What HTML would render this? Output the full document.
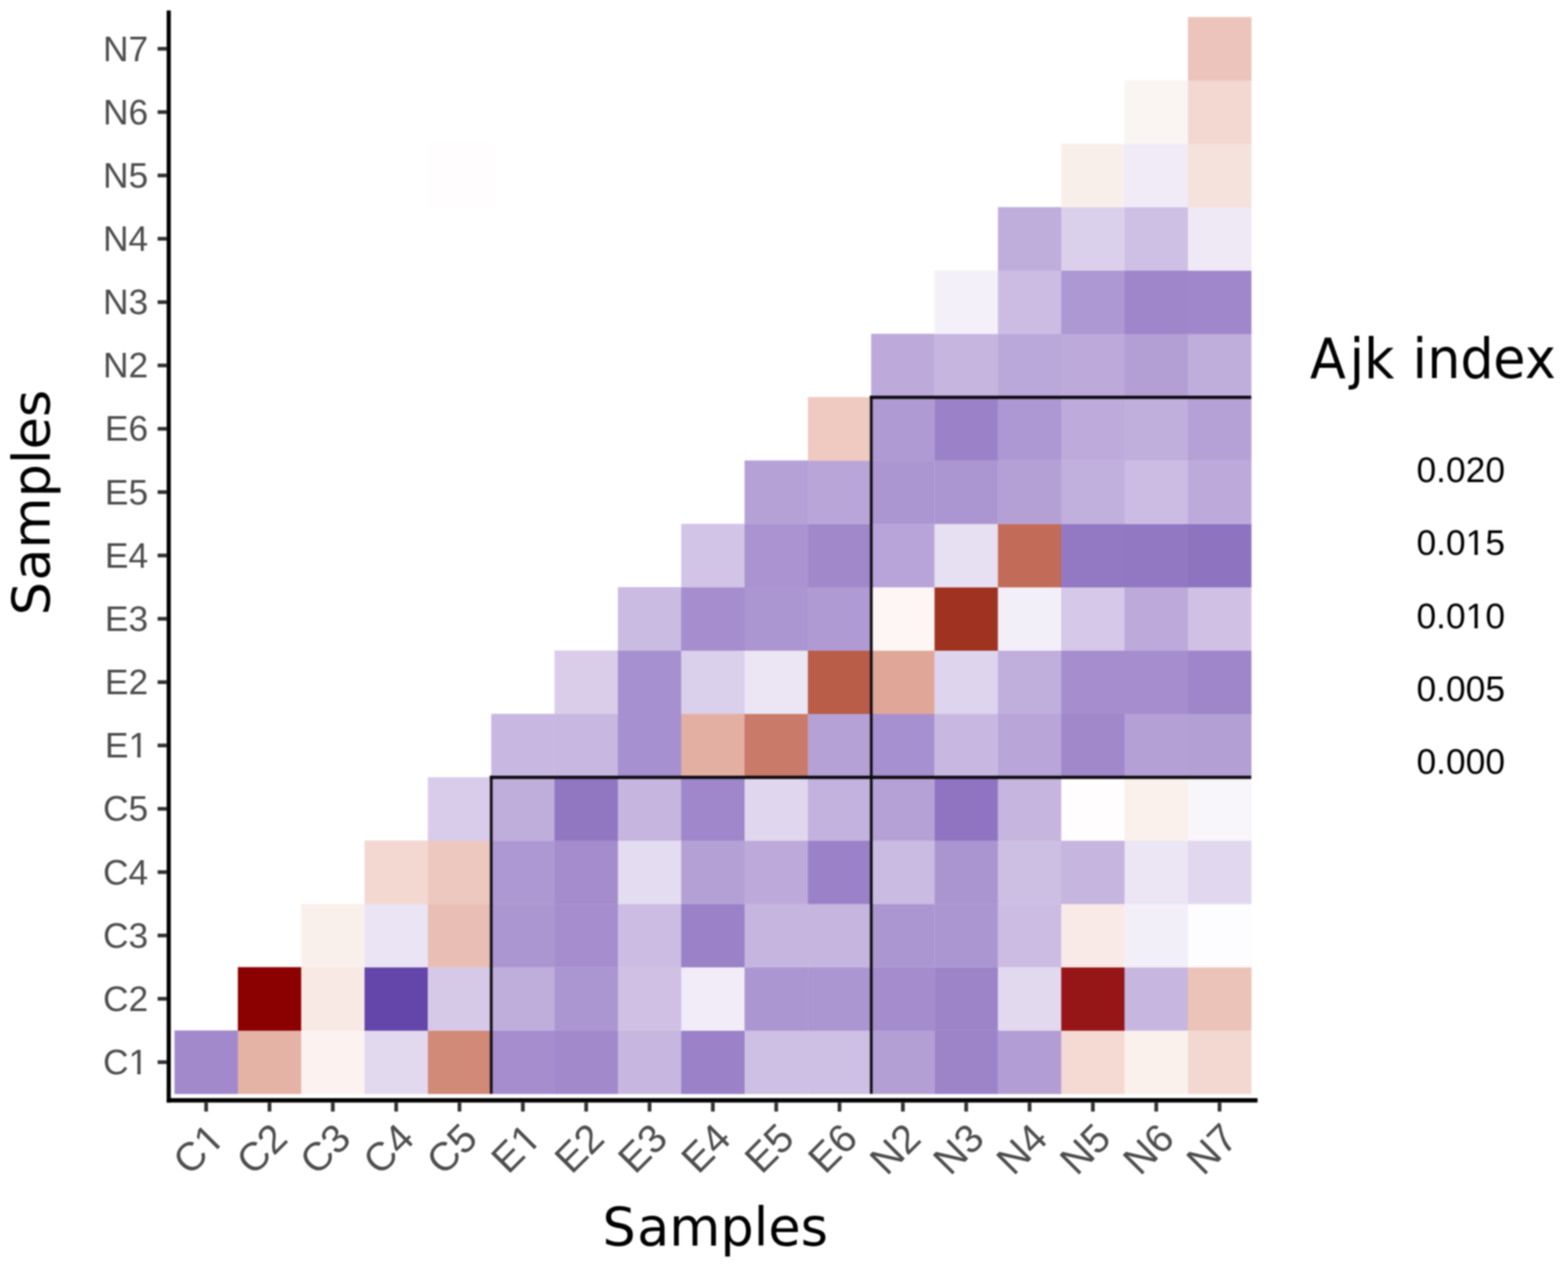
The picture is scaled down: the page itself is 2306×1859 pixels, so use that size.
<!DOCTYPE html>
<html lang="en"><head><meta charset="utf-8"><title>Ajk index heatmap</title>
<style>
html,body{margin:0;padding:0;background:#fff;}
body{width:2306px;height:1859px;overflow:hidden;}
svg{display:block;}
.lab{font-family:"Liberation Sans",Arial,Helvetica,sans-serif;font-size:52px;fill:#4D4D4D;}
.xlab{font-family:"Liberation Sans",Arial,Helvetica,sans-serif;font-size:59px;fill:#4D4D4D;}
.leg{font-family:"Liberation Sans",Arial,Helvetica,sans-serif;font-size:52px;fill:#000;}
.ttl{font-family:"DejaVu Sans",Verdana,sans-serif;font-size:77.2px;fill:#000;}
</style></head>
<body>
<svg width="2306" height="1859" viewBox="0 0 2306 1859" role="img" aria-label="Heatmap of Ajk index between samples">
<defs><filter id="soft" x="0" y="0" width="2306" height="1859" filterUnits="userSpaceOnUse" color-interpolation-filters="sRGB"><feGaussianBlur stdDeviation="0.85"/></filter></defs>
<g filter="url(#soft)">
<rect x="0" y="0" width="2306" height="1859" fill="#ffffff"/>
<g id="cells">
<rect x="256.6" y="1515.5" width="93.5" height="93.5" fill="#A289CC"/>
<rect x="349.8" y="1515.5" width="93.5" height="93.5" fill="#E5B3A6"/>
<rect x="442.9" y="1515.5" width="93.5" height="93.5" fill="#FCF3F1"/>
<rect x="536.1" y="1515.5" width="93.5" height="93.5" fill="#E2D9EF"/>
<rect x="629.2" y="1515.5" width="93.5" height="93.5" fill="#D18978"/>
<rect x="722.4" y="1515.5" width="93.5" height="93.5" fill="#A68ECE"/>
<rect x="815.5" y="1515.5" width="93.5" height="93.5" fill="#A289CC"/>
<rect x="908.7" y="1515.5" width="93.5" height="93.5" fill="#C7B7E0"/>
<rect x="1001.8" y="1515.5" width="93.5" height="93.5" fill="#9B82C8"/>
<rect x="1095.0" y="1515.5" width="93.5" height="93.5" fill="#CEBFE4"/>
<rect x="1188.1" y="1515.5" width="93.5" height="93.5" fill="#CEBFE4"/>
<rect x="1281.2" y="1515.5" width="93.5" height="93.5" fill="#B49FD5"/>
<rect x="1374.4" y="1515.5" width="93.5" height="93.5" fill="#9D84C9"/>
<rect x="1467.6" y="1515.5" width="93.5" height="93.5" fill="#B39DD5"/>
<rect x="1560.7" y="1515.5" width="93.5" height="93.5" fill="#F4DAD3"/>
<rect x="1653.8" y="1515.5" width="93.5" height="93.5" fill="#FBF1EC"/>
<rect x="1747.0" y="1515.5" width="93.5" height="93.5" fill="#F3D8D2"/>
<rect x="349.8" y="1422.4" width="93.5" height="93.5" fill="#8B0000"/>
<rect x="442.9" y="1422.4" width="93.5" height="93.5" fill="#F9E9E5"/>
<rect x="536.1" y="1422.4" width="93.5" height="93.5" fill="#6446AB"/>
<rect x="629.2" y="1422.4" width="93.5" height="93.5" fill="#D6C9E8"/>
<rect x="722.4" y="1422.4" width="93.5" height="93.5" fill="#BFADDC"/>
<rect x="815.5" y="1422.4" width="93.5" height="93.5" fill="#AC96D1"/>
<rect x="908.7" y="1422.4" width="93.5" height="93.5" fill="#CFC0E4"/>
<rect x="1001.8" y="1422.4" width="93.5" height="93.5" fill="#F1ECF7"/>
<rect x="1095.0" y="1422.4" width="93.5" height="93.5" fill="#AC96D1"/>
<rect x="1188.1" y="1422.4" width="93.5" height="93.5" fill="#AC96D1"/>
<rect x="1281.2" y="1422.4" width="93.5" height="93.5" fill="#A48CCD"/>
<rect x="1374.4" y="1422.4" width="93.5" height="93.5" fill="#9D84C9"/>
<rect x="1467.6" y="1422.4" width="93.5" height="93.5" fill="#E2D9EF"/>
<rect x="1560.7" y="1422.4" width="93.5" height="93.5" fill="#961618"/>
<rect x="1653.8" y="1422.4" width="93.5" height="93.5" fill="#C7B7E0"/>
<rect x="1747.0" y="1422.4" width="93.5" height="93.5" fill="#EBC3B9"/>
<rect x="442.9" y="1329.2" width="93.5" height="93.5" fill="#FAF0EB"/>
<rect x="536.1" y="1329.2" width="93.5" height="93.5" fill="#EAE4F4"/>
<rect x="629.2" y="1329.2" width="93.5" height="93.5" fill="#E9BEB4"/>
<rect x="722.4" y="1329.2" width="93.5" height="93.5" fill="#AC96D1"/>
<rect x="815.5" y="1329.2" width="93.5" height="93.5" fill="#A68ECE"/>
<rect x="908.7" y="1329.2" width="93.5" height="93.5" fill="#CCBCE3"/>
<rect x="1001.8" y="1329.2" width="93.5" height="93.5" fill="#9B82C8"/>
<rect x="1095.0" y="1329.2" width="93.5" height="93.5" fill="#C5B5DF"/>
<rect x="1188.1" y="1329.2" width="93.5" height="93.5" fill="#C5B5DF"/>
<rect x="1281.2" y="1329.2" width="93.5" height="93.5" fill="#AC96D1"/>
<rect x="1374.4" y="1329.2" width="93.5" height="93.5" fill="#AC96D1"/>
<rect x="1467.6" y="1329.2" width="93.5" height="93.5" fill="#CCBCE3"/>
<rect x="1560.7" y="1329.2" width="93.5" height="93.5" fill="#F9EAE7"/>
<rect x="1653.8" y="1329.2" width="93.5" height="93.5" fill="#F3EFF8"/>
<rect x="1747.0" y="1329.2" width="93.5" height="93.5" fill="#FDFCFE"/>
<rect x="536.1" y="1236.1" width="93.5" height="93.5" fill="#F3D8D2"/>
<rect x="629.2" y="1236.1" width="93.5" height="93.5" fill="#EDC8BF"/>
<rect x="722.4" y="1236.1" width="93.5" height="93.5" fill="#AE98D3"/>
<rect x="815.5" y="1236.1" width="93.5" height="93.5" fill="#A48CCD"/>
<rect x="908.7" y="1236.1" width="93.5" height="93.5" fill="#E4DCF0"/>
<rect x="1001.8" y="1236.1" width="93.5" height="93.5" fill="#B5A0D6"/>
<rect x="1095.0" y="1236.1" width="93.5" height="93.5" fill="#BDAADB"/>
<rect x="1188.1" y="1236.1" width="93.5" height="93.5" fill="#9B82C8"/>
<rect x="1281.2" y="1236.1" width="93.5" height="93.5" fill="#CABBE2"/>
<rect x="1374.4" y="1236.1" width="93.5" height="93.5" fill="#AB95D1"/>
<rect x="1467.6" y="1236.1" width="93.5" height="93.5" fill="#CDBEE3"/>
<rect x="1560.7" y="1236.1" width="93.5" height="93.5" fill="#C5B5DF"/>
<rect x="1653.8" y="1236.1" width="93.5" height="93.5" fill="#EBE5F4"/>
<rect x="1747.0" y="1236.1" width="93.5" height="93.5" fill="#E1D8EF"/>
<rect x="629.2" y="1143.0" width="93.5" height="93.5" fill="#D8CCEA"/>
<rect x="722.4" y="1143.0" width="93.5" height="93.5" fill="#BFADDC"/>
<rect x="815.5" y="1143.0" width="93.5" height="93.5" fill="#9176C2"/>
<rect x="908.7" y="1143.0" width="93.5" height="93.5" fill="#C5B5DF"/>
<rect x="1001.8" y="1143.0" width="93.5" height="93.5" fill="#A087CB"/>
<rect x="1095.0" y="1143.0" width="93.5" height="93.5" fill="#E0D7EE"/>
<rect x="1188.1" y="1143.0" width="93.5" height="93.5" fill="#C3B2DE"/>
<rect x="1281.2" y="1143.0" width="93.5" height="93.5" fill="#B6A1D7"/>
<rect x="1374.4" y="1143.0" width="93.5" height="93.5" fill="#9074C2"/>
<rect x="1467.6" y="1143.0" width="93.5" height="93.5" fill="#C5B5DF"/>
<rect x="1560.7" y="1143.0" width="93.5" height="93.5" fill="#FFFDFE"/>
<rect x="1653.8" y="1143.0" width="93.5" height="93.5" fill="#FAF1EC"/>
<rect x="1747.0" y="1143.0" width="93.5" height="93.5" fill="#F8F5FB"/>
<rect x="722.4" y="1049.8" width="93.5" height="93.5" fill="#C8B8E1"/>
<rect x="815.5" y="1049.8" width="93.5" height="93.5" fill="#C8B8E1"/>
<rect x="908.7" y="1049.8" width="93.5" height="93.5" fill="#A790CF"/>
<rect x="1001.8" y="1049.8" width="93.5" height="93.5" fill="#E3AFA2"/>
<rect x="1095.0" y="1049.8" width="93.5" height="93.5" fill="#C97A68"/>
<rect x="1188.1" y="1049.8" width="93.5" height="93.5" fill="#B6A1D7"/>
<rect x="1281.2" y="1049.8" width="93.5" height="93.5" fill="#A790CF"/>
<rect x="1374.4" y="1049.8" width="93.5" height="93.5" fill="#C8B8E1"/>
<rect x="1467.6" y="1049.8" width="93.5" height="93.5" fill="#B9A5D8"/>
<rect x="1560.7" y="1049.8" width="93.5" height="93.5" fill="#A188CB"/>
<rect x="1653.8" y="1049.8" width="93.5" height="93.5" fill="#B5A0D6"/>
<rect x="1747.0" y="1049.8" width="93.5" height="93.5" fill="#B49FD5"/>
<rect x="815.5" y="956.6" width="93.5" height="93.5" fill="#D9CDEA"/>
<rect x="908.7" y="956.6" width="93.5" height="93.5" fill="#A790CF"/>
<rect x="1001.8" y="956.6" width="93.5" height="93.5" fill="#DBD0EB"/>
<rect x="1095.0" y="956.6" width="93.5" height="93.5" fill="#EBE5F4"/>
<rect x="1188.1" y="956.6" width="93.5" height="93.5" fill="#B95D49"/>
<rect x="1281.2" y="956.6" width="93.5" height="93.5" fill="#E0A799"/>
<rect x="1374.4" y="956.6" width="93.5" height="93.5" fill="#DED4ED"/>
<rect x="1467.6" y="956.6" width="93.5" height="93.5" fill="#C0AEDC"/>
<rect x="1560.7" y="956.6" width="93.5" height="93.5" fill="#A68ECE"/>
<rect x="1653.8" y="956.6" width="93.5" height="93.5" fill="#A68ECE"/>
<rect x="1747.0" y="956.6" width="93.5" height="93.5" fill="#9F86CA"/>
<rect x="908.7" y="863.5" width="93.5" height="93.5" fill="#CABBE2"/>
<rect x="1001.8" y="863.5" width="93.5" height="93.5" fill="#A68ECE"/>
<rect x="1095.0" y="863.5" width="93.5" height="93.5" fill="#AC96D1"/>
<rect x="1188.1" y="863.5" width="93.5" height="93.5" fill="#AF9AD3"/>
<rect x="1281.2" y="863.5" width="93.5" height="93.5" fill="#FEF6F5"/>
<rect x="1374.4" y="863.5" width="93.5" height="93.5" fill="#9F3220"/>
<rect x="1467.6" y="863.5" width="93.5" height="93.5" fill="#F3EFF8"/>
<rect x="1560.7" y="863.5" width="93.5" height="93.5" fill="#D5C8E8"/>
<rect x="1653.8" y="863.5" width="93.5" height="93.5" fill="#BDAADB"/>
<rect x="1747.0" y="863.5" width="93.5" height="93.5" fill="#CFC0E4"/>
<rect x="1001.8" y="770.4" width="93.5" height="93.5" fill="#D2C4E6"/>
<rect x="1095.0" y="770.4" width="93.5" height="93.5" fill="#AA93D0"/>
<rect x="1188.1" y="770.4" width="93.5" height="93.5" fill="#A188CB"/>
<rect x="1281.2" y="770.4" width="93.5" height="93.5" fill="#B8A4D8"/>
<rect x="1374.4" y="770.4" width="93.5" height="93.5" fill="#E7E0F2"/>
<rect x="1467.6" y="770.4" width="93.5" height="93.5" fill="#C16B58"/>
<rect x="1560.7" y="770.4" width="93.5" height="93.5" fill="#9378C4"/>
<rect x="1653.8" y="770.4" width="93.5" height="93.5" fill="#9277C3"/>
<rect x="1747.0" y="770.4" width="93.5" height="93.5" fill="#8E73C1"/>
<rect x="1095.0" y="677.2" width="93.5" height="93.5" fill="#B6A1D7"/>
<rect x="1188.1" y="677.2" width="93.5" height="93.5" fill="#B9A5D8"/>
<rect x="1281.2" y="677.2" width="93.5" height="93.5" fill="#AC96D1"/>
<rect x="1374.4" y="677.2" width="93.5" height="93.5" fill="#AC96D1"/>
<rect x="1467.6" y="677.2" width="93.5" height="93.5" fill="#B5A0D6"/>
<rect x="1560.7" y="677.2" width="93.5" height="93.5" fill="#C1AFDD"/>
<rect x="1653.8" y="677.2" width="93.5" height="93.5" fill="#CCBCE3"/>
<rect x="1747.0" y="677.2" width="93.5" height="93.5" fill="#BDAADB"/>
<rect x="1188.1" y="584.0" width="93.5" height="93.5" fill="#EECAC1"/>
<rect x="1281.2" y="584.0" width="93.5" height="93.5" fill="#AF9AD3"/>
<rect x="1374.4" y="584.0" width="93.5" height="93.5" fill="#9B82C8"/>
<rect x="1467.6" y="584.0" width="93.5" height="93.5" fill="#AE98D3"/>
<rect x="1560.7" y="584.0" width="93.5" height="93.5" fill="#BEABDB"/>
<rect x="1653.8" y="584.0" width="93.5" height="93.5" fill="#C0AEDC"/>
<rect x="1747.0" y="584.0" width="93.5" height="93.5" fill="#B6A1D7"/>
<rect x="1281.2" y="490.9" width="93.5" height="93.5" fill="#BDAADB"/>
<rect x="1374.4" y="490.9" width="93.5" height="93.5" fill="#C5B5DF"/>
<rect x="1467.6" y="490.9" width="93.5" height="93.5" fill="#BBA8DA"/>
<rect x="1560.7" y="490.9" width="93.5" height="93.5" fill="#BDAADB"/>
<rect x="1653.8" y="490.9" width="93.5" height="93.5" fill="#B49FD5"/>
<rect x="1747.0" y="490.9" width="93.5" height="93.5" fill="#BFADDC"/>
<rect x="1374.4" y="397.8" width="93.5" height="93.5" fill="#F4F0F9"/>
<rect x="1467.6" y="397.8" width="93.5" height="93.5" fill="#CCBCE3"/>
<rect x="1560.7" y="397.8" width="93.5" height="93.5" fill="#AE98D3"/>
<rect x="1653.8" y="397.8" width="93.5" height="93.5" fill="#9F86CA"/>
<rect x="1747.0" y="397.8" width="93.5" height="93.5" fill="#A087CB"/>
<rect x="1467.6" y="304.6" width="93.5" height="93.5" fill="#BFADDC"/>
<rect x="1560.7" y="304.6" width="93.5" height="93.5" fill="#DBD0EB"/>
<rect x="1653.8" y="304.6" width="93.5" height="93.5" fill="#CEBFE4"/>
<rect x="1747.0" y="304.6" width="93.5" height="93.5" fill="#EFE9F6"/>
<rect x="629.2" y="211.5" width="93.5" height="93.5" fill="#FFFDFE"/>
<rect x="1560.7" y="211.5" width="93.5" height="93.5" fill="#F9EFEA"/>
<rect x="1653.8" y="211.5" width="93.5" height="93.5" fill="#F0EBF7"/>
<rect x="1747.0" y="211.5" width="93.5" height="93.5" fill="#F6E2DD"/>
<rect x="1653.8" y="118.3" width="93.5" height="93.5" fill="#FAF5F2"/>
<rect x="1747.0" y="118.3" width="93.5" height="93.5" fill="#F3D8D2"/>
<rect x="1747.0" y="25.1" width="93.5" height="93.5" fill="#ECC4BB"/>
</g>
<g id="separators" fill="#0d0c10">
<rect x="720.45" y="1140.85" width="4.00" height="467.85"/>
<rect x="720.45" y="1140.85" width="1119.70" height="4.80"/>
<rect x="1279.35" y="581.95" width="4.00" height="1026.75"/>
<rect x="1279.35" y="581.95" width="560.80" height="4.80"/>
</g>
<g id="axes">
<rect x="245.1" y="15.4" width="6.1" height="1606.1" fill="#000"/>
<rect x="245.1" y="1615.1" width="1604.3" height="6.4" fill="#000"/>
<rect x="300.4" y="1621.5" width="5.5" height="13.3" fill="#333333"/>
<rect x="231.8" y="1559.4" width="13.3" height="5.5" fill="#333333"/>
<rect x="393.6" y="1621.5" width="5.5" height="13.3" fill="#333333"/>
<rect x="231.8" y="1466.2" width="13.3" height="5.5" fill="#333333"/>
<rect x="486.7" y="1621.5" width="5.5" height="13.3" fill="#333333"/>
<rect x="231.8" y="1373.1" width="13.3" height="5.5" fill="#333333"/>
<rect x="579.9" y="1621.5" width="5.5" height="13.3" fill="#333333"/>
<rect x="231.8" y="1279.9" width="13.3" height="5.5" fill="#333333"/>
<rect x="673.0" y="1621.5" width="5.5" height="13.3" fill="#333333"/>
<rect x="231.8" y="1186.8" width="13.3" height="5.5" fill="#333333"/>
<rect x="766.2" y="1621.5" width="5.5" height="13.3" fill="#333333"/>
<rect x="231.8" y="1093.6" width="13.3" height="5.5" fill="#333333"/>
<rect x="859.3" y="1621.5" width="5.5" height="13.3" fill="#333333"/>
<rect x="231.8" y="1000.5" width="13.3" height="5.5" fill="#333333"/>
<rect x="952.5" y="1621.5" width="5.5" height="13.3" fill="#333333"/>
<rect x="231.8" y="907.3" width="13.3" height="5.5" fill="#333333"/>
<rect x="1045.6" y="1621.5" width="5.5" height="13.3" fill="#333333"/>
<rect x="231.8" y="814.2" width="13.3" height="5.5" fill="#333333"/>
<rect x="1138.8" y="1621.5" width="5.5" height="13.3" fill="#333333"/>
<rect x="231.8" y="721.0" width="13.3" height="5.5" fill="#333333"/>
<rect x="1231.9" y="1621.5" width="5.5" height="13.3" fill="#333333"/>
<rect x="231.8" y="627.9" width="13.3" height="5.5" fill="#333333"/>
<rect x="1325.1" y="1621.5" width="5.5" height="13.3" fill="#333333"/>
<rect x="231.8" y="534.7" width="13.3" height="5.5" fill="#333333"/>
<rect x="1418.2" y="1621.5" width="5.5" height="13.3" fill="#333333"/>
<rect x="231.8" y="441.6" width="13.3" height="5.5" fill="#333333"/>
<rect x="1511.4" y="1621.5" width="5.5" height="13.3" fill="#333333"/>
<rect x="231.8" y="348.4" width="13.3" height="5.5" fill="#333333"/>
<rect x="1604.5" y="1621.5" width="5.5" height="13.3" fill="#333333"/>
<rect x="231.8" y="255.3" width="13.3" height="5.5" fill="#333333"/>
<rect x="1697.7" y="1621.5" width="5.5" height="13.3" fill="#333333"/>
<rect x="231.8" y="162.1" width="13.3" height="5.5" fill="#333333"/>
<rect x="1790.8" y="1621.5" width="5.5" height="13.3" fill="#333333"/>
<rect x="231.8" y="69.0" width="13.3" height="5.5" fill="#333333"/>
</g>
<g id="labels">
<text class="lab" text-anchor="end" x="217.9" y="1579.9">C1</text>
<text class="lab" text-anchor="end" x="217.9" y="1486.8">C2</text>
<text class="lab" text-anchor="end" x="217.9" y="1393.6">C3</text>
<text class="lab" text-anchor="end" x="217.9" y="1300.5">C4</text>
<text class="lab" text-anchor="end" x="217.9" y="1207.3">C5</text>
<text class="lab" text-anchor="end" x="217.9" y="1114.2">E1</text>
<text class="lab" text-anchor="end" x="217.9" y="1021.0">E2</text>
<text class="lab" text-anchor="end" x="217.9" y="927.9">E3</text>
<text class="lab" text-anchor="end" x="217.9" y="834.7">E4</text>
<text class="lab" text-anchor="end" x="217.9" y="741.6">E5</text>
<text class="lab" text-anchor="end" x="217.9" y="648.4">E6</text>
<text class="lab" text-anchor="end" x="217.9" y="555.3">N2</text>
<text class="lab" text-anchor="end" x="217.9" y="462.1">N3</text>
<text class="lab" text-anchor="end" x="217.9" y="369.0">N4</text>
<text class="lab" text-anchor="end" x="217.9" y="275.8">N5</text>
<text class="lab" text-anchor="end" x="217.9" y="182.7">N6</text>
<text class="lab" text-anchor="end" x="217.9" y="89.5">N7</text>
<text class="xlab" text-anchor="end" transform="translate(332.7 1677.5) rotate(-45)">C1</text>
<text class="xlab" text-anchor="end" transform="translate(425.8 1677.5) rotate(-45)">C2</text>
<text class="xlab" text-anchor="end" transform="translate(519.0 1677.5) rotate(-45)">C3</text>
<text class="xlab" text-anchor="end" transform="translate(612.1 1677.5) rotate(-45)">C4</text>
<text class="xlab" text-anchor="end" transform="translate(705.3 1677.5) rotate(-45)">C5</text>
<text class="xlab" text-anchor="end" transform="translate(798.4 1677.5) rotate(-45)">E1</text>
<text class="xlab" text-anchor="end" transform="translate(891.6 1677.5) rotate(-45)">E2</text>
<text class="xlab" text-anchor="end" transform="translate(984.7 1677.5) rotate(-45)">E3</text>
<text class="xlab" text-anchor="end" transform="translate(1077.9 1677.5) rotate(-45)">E4</text>
<text class="xlab" text-anchor="end" transform="translate(1171.0 1677.5) rotate(-45)">E5</text>
<text class="xlab" text-anchor="end" transform="translate(1264.2 1677.5) rotate(-45)">E6</text>
<text class="xlab" text-anchor="end" transform="translate(1357.3 1677.5) rotate(-45)">N2</text>
<text class="xlab" text-anchor="end" transform="translate(1450.5 1677.5) rotate(-45)">N3</text>
<text class="xlab" text-anchor="end" transform="translate(1543.6 1677.5) rotate(-45)">N4</text>
<text class="xlab" text-anchor="end" transform="translate(1636.8 1677.5) rotate(-45)">N5</text>
<text class="xlab" text-anchor="end" transform="translate(1729.9 1677.5) rotate(-45)">N6</text>
<text class="xlab" text-anchor="end" transform="translate(1823.1 1677.5) rotate(-45)">N7</text>
<text class="ttl" transform="translate(1050.0 1832.0) scale(1 1.015)" x="-163.9 -113.0 -65.7 9.5 58.5 79.9 127.4" y="0">Samples</text>
<text class="ttl" transform="translate(72.8 741.0) rotate(-90) scale(1 0.995)" x="-163.9 -113.0 -65.7 9.5 58.5 79.9 127.4" y="0">Samples</text>
<text class="ttl" transform="translate(1926.5 556.0) scale(1 1.055)" x="0.0 58.2 79.4 125.1 150.7 172.4 221.3 269.5 316.0" y="0">Ajk index</text>
<text class="leg" x="2083.2" y="708.8">0.020</text>
<text class="leg" x="2083.2" y="816.2">0.015</text>
<text class="leg" x="2083.2" y="923.6">0.010</text>
<text class="leg" x="2083.2" y="1031.0">0.005</text>
<text class="leg" x="2083.2" y="1138.4">0.000</text>
<g transform="translate(217.9 1579.9)"><rect x="-25.86" y="-4.78" width="9.87" height="5.68" fill="#fff"/><rect x="-11.10" y="-4.78" width="9.61" height="5.68" fill="#fff"/></g>
<g transform="translate(332.7 1677.5) rotate(-45)"><rect x="-29.22" y="-5.31" width="11.09" height="6.21" fill="#fff"/><rect x="-12.61" y="-5.31" width="10.78" height="6.21" fill="#fff"/></g>
<g transform="translate(217.9 1114.2)"><rect x="-25.86" y="-4.78" width="9.87" height="5.68" fill="#fff"/><rect x="-11.10" y="-4.78" width="9.61" height="5.68" fill="#fff"/></g>
<g transform="translate(798.4 1677.5) rotate(-45)"><rect x="-29.22" y="-5.31" width="11.09" height="6.21" fill="#fff"/><rect x="-12.61" y="-5.31" width="10.78" height="6.21" fill="#fff"/></g>
<g transform="translate(2083.2 816.2)"><rect x="75.35" y="-4.78" width="9.87" height="5.68" fill="#fff"/><rect x="90.11" y="-4.78" width="9.61" height="5.68" fill="#fff"/></g>
<g transform="translate(2083.2 923.6)"><rect x="75.35" y="-4.78" width="9.87" height="5.68" fill="#fff"/><rect x="90.11" y="-4.78" width="9.61" height="5.68" fill="#fff"/></g>
</g>
</g>
</svg>
</body></html>
